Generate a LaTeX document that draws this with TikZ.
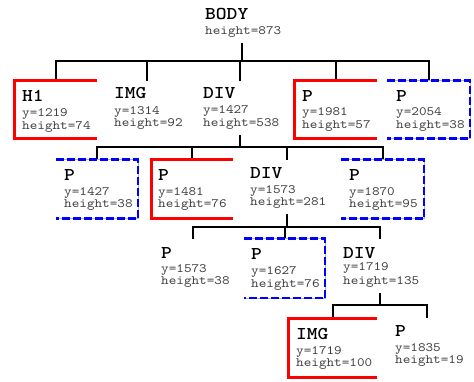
\documentclass[tikz,border=0pt]{standalone}
\usepackage{fontspec}
\newfontfamily\monofam{lmmono10-regular.otf}[FakeStretch=1.14, BoldFont=lmmonolt10-bold.otf]
\begin{document}
\begin{tikzpicture}[x=1pt,y=-1pt,
  conn/.style={line width=2pt, black},
  redside/.style={line width=3pt, red},
  blueside/.style={line width=2.8pt, blue, dash pattern=on 8pt off 3pt},
  greyline/.style={line width=0.8pt, gray!60},
  tag/.style={anchor=base west, inner sep=0, font=\monofam\bfseries\fontsize{18}{18}\selectfont},
  val/.style={anchor=base west, inner sep=0, text=black!75, font=\monofam\fontsize{12.7}{13}\selectfont},
  elbox/.style={anchor=north west, inner sep=0, outer sep=0}]
\useasboundingbox (0,0) rectangle (474,381);

% element boxes
\node[elbox, minimum width=40pt, minimum height=40pt] (body) at (222,3) {};
\node[elbox, minimum width=83pt, minimum height=57.5pt] (h1) at (14,80.5) {};
\node[elbox, minimum width=40pt, minimum height=55pt] (img1) at (127,80.5) {};
\node[elbox, minimum width=40pt, minimum height=54.5pt] (div1) at (220,80.5) {};
\node[elbox, minimum width=83pt, minimum height=57.5pt] (p1) at (294,80.5) {};
\node[elbox, minimum width=83pt, minimum height=58pt] (p2) at (387,80.5) {};
\node[elbox, minimum width=82pt, minimum height=59pt] (p3) at (56,159.5) {};
\node[elbox, minimum width=82pt, minimum height=59pt] (p4) at (151,159.5) {};
\node[elbox, minimum width=40pt, minimum height=54.5pt] (div2) at (266.5,159.5) {};
\node[elbox, minimum width=83pt, minimum height=59pt] (p5) at (341,159.5) {};
\node[elbox, minimum width=40pt, minimum height=55pt] (p6) at (173,238.5) {};
\node[elbox, minimum width=81pt, minimum height=59.5pt] (p7) at (244,238.5) {};
\node[elbox, minimum width=40pt, minimum height=54.5pt] (div3) at (360,238.5) {};
\node[elbox, minimum width=89pt, minimum height=59pt] (img2) at (288,318) {};
\node[elbox, minimum width=40pt, minimum height=55pt] (p8) at (407,318) {};

% bar levels
\coordinate (bar1) at (0,61);
\coordinate (bar2) at (0,146.5);
\coordinate (bar3) at (0,227);
\coordinate (bar4) at (0,305);

% connectors
\foreach \c in {h1,img1,div1,p1,p2}
  \draw[conn] (body.south) -- (body.south |- bar1) -| (\c.north);
\foreach \c in {p3,p4,div2,p5}
  \draw[conn] (div1.south) -- (div1.south |- bar2) -| (\c.north);
\foreach \c in {p6,p7,div3}
  \draw[conn] (div2.south) -- (div2.south |- bar3) -| (\c.north);
\foreach \c in {img2,p8}
  \draw[conn] (div3.south) -- (div3.south |- bar4) -| (\c.north);

% red brackets
\foreach \b in {h1,p1,p4,img2}
  \draw[redside] (\b.north east) -- (\b.north west) -- (\b.south west) -- (\b.south east);
% blue dashed brackets
\foreach \b in {p2,p3,p5,p7} {
  \draw[greyline] (\b.north west) -- (\b.north east) -- (\b.south east) -- (\b.south west);
  \draw[blueside] (\b.north west) -- (\b.north east) -- (\b.south east) -- (\b.south west);
}

% texts
\node[tag] (bodyl) at (205,19.5) {BODY};
\node[val] (bodyh) at (205,34) {height=873};

\node[tag] (h1l) at (22,101.5) {H1};
\node[val] (h1y) at (22,116) {y=1219};
\node[val] (h1h) at (22,129) {height=74};

\node[tag] (img1l) at (114,98.5) {IMG};
\node[val] (img1y) at (114,114) {y=1314};
\node[val] (img1h) at (114,126) {height=92};

\node[tag] (div1l) at (203,98.5) {DIV};
\node[val] (div1y) at (203,113) {y=1427};
\node[val] (div1h) at (203,126) {height=538};

\node[tag] (p1l) at (302,101.5) {P};
\node[val] (p1y) at (302,115.5) {y=1981};
\node[val] (p1h) at (302,128.5) {height=57};

\node[tag] (p2l) at (396,101.5) {P};
\node[val] (p2y) at (396,115.5) {y=2054};
\node[val] (p2h) at (396,128.5) {height=38};

\node[tag] (p3l) at (64,180.5) {P};
\node[val] (p3y) at (64,195) {y=1427};
\node[val] (p3h) at (64,207) {height=38};

\node[tag] (p4l) at (158,180.5) {P};
\node[val] (p4y) at (158,195) {y=1481};
\node[val] (p4h) at (158,207) {height=76};

\node[tag] (div2l) at (250,178) {DIV};
\node[val] (div2y) at (250,193) {y=1573};
\node[val] (div2h) at (250,205) {height=281};

\node[tag] (p5l) at (349,180.5) {P};
\node[val] (p5y) at (349,195) {y=1870};
\node[val] (p5h) at (349,207) {height=95};

\node[tag] (p6l) at (161,258) {P};
\node[val] (p6y) at (161,272) {y=1573};
\node[val] (p6h) at (161,284.5) {height=38};

\node[tag] (p7l) at (251,259) {P};
\node[val] (p7y) at (251,274.5) {y=1627};
\node[val] (p7h) at (251,287) {height=76};

\node[tag] (div3l) at (343,258) {DIV};
\node[val] (div3y) at (343,270.5) {y=1719};
\node[val] (div3h) at (343,284) {height=135};

\node[tag] (img2l) at (296,339) {IMG};
\node[val] (img2y) at (296,354) {y=1719};
\node[val] (img2h) at (296,366) {height=100};

\node[tag] (p8l) at (395,336.5) {P};
\node[val] (p8y) at (395,351) {y=1835};
\node[val] (p8h) at (395,363.5) {height=19};
\end{tikzpicture}
\end{document}
